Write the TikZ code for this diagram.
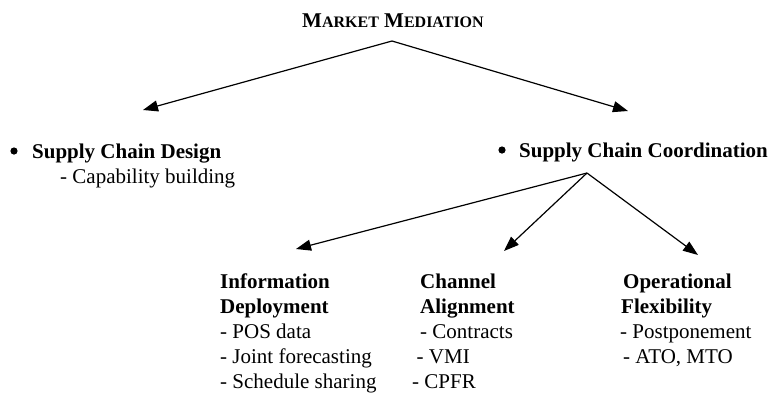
\documentclass[tikz,border=0pt]{standalone}
\usepackage{fontspec}
\setmainfont{Liberation Serif}
\usetikzlibrary{arrows.meta}
\begin{document}
\begin{tikzpicture}[x=1pt,y=-1pt,
  txt/.style={inner sep=0pt,anchor=base west,align=left,font=\fontsize{21}{25}\selectfont},
  conn/.style={line width=1.2pt,-{Triangle[length=15pt,width=11pt]}},
  dot/.style={fill=black}]
\useasboundingbox (0,0) rectangle (769,392);
\node[txt,anchor=base] (title) at (393,27) {\bfseries M{\fontsize{16}{19}\selectfont ARKET} M{\fontsize{16}{19}\selectfont EDIATION}};
% anchor base = baseline of the last line
\node[txt] (design) at (32,183) {\textbf{Supply Chain Design}\\\hspace*{28pt}- Capability building};
\node[txt] (coord) at (519,157) {\textbf{Supply Chain Coordination}};
\fill[dot] (14,151) circle (3.6pt);
\fill[dot] (502,150) circle (3.6pt);
\node[txt] (info) at (220,388) {\textbf{Information}\\\textbf{Deployment}\\- POS data\\- Joint forecasting\\- Schedule sharing};
\node[txt] (chan) at (412,388) {\hspace*{8pt}\textbf{Channel}\\\hspace*{8pt}\textbf{Alignment}\\\hspace*{8pt}- Contracts\\\hspace*{4.5pt}- VMI\\- CPFR};
\node[txt] (oper) at (620,363) {\hspace*{3pt}\textbf{Operational}\\\hspace*{1pt}\textbf{Flexibility}\\- Postponement\\\hspace*{3pt}- ATO, MTO};
\coordinate (apex1) at (392,41);
\coordinate (apex2) at (587,173);
\coordinate (tipD) at (143,110);
\coordinate (tipC) at (628,111);
\coordinate (tipI) at (296,249);
\coordinate (tipA) at (504,251);
\coordinate (tipO) at (698,255);
\draw[conn] (apex1) -- (tipD);
\draw[conn] (apex1) -- (tipC);
\draw[conn] (apex2) -- (tipI);
\draw[conn] (apex2) -- (tipA);
\draw[conn] (apex2) -- (tipO);
\end{tikzpicture}
\end{document}
